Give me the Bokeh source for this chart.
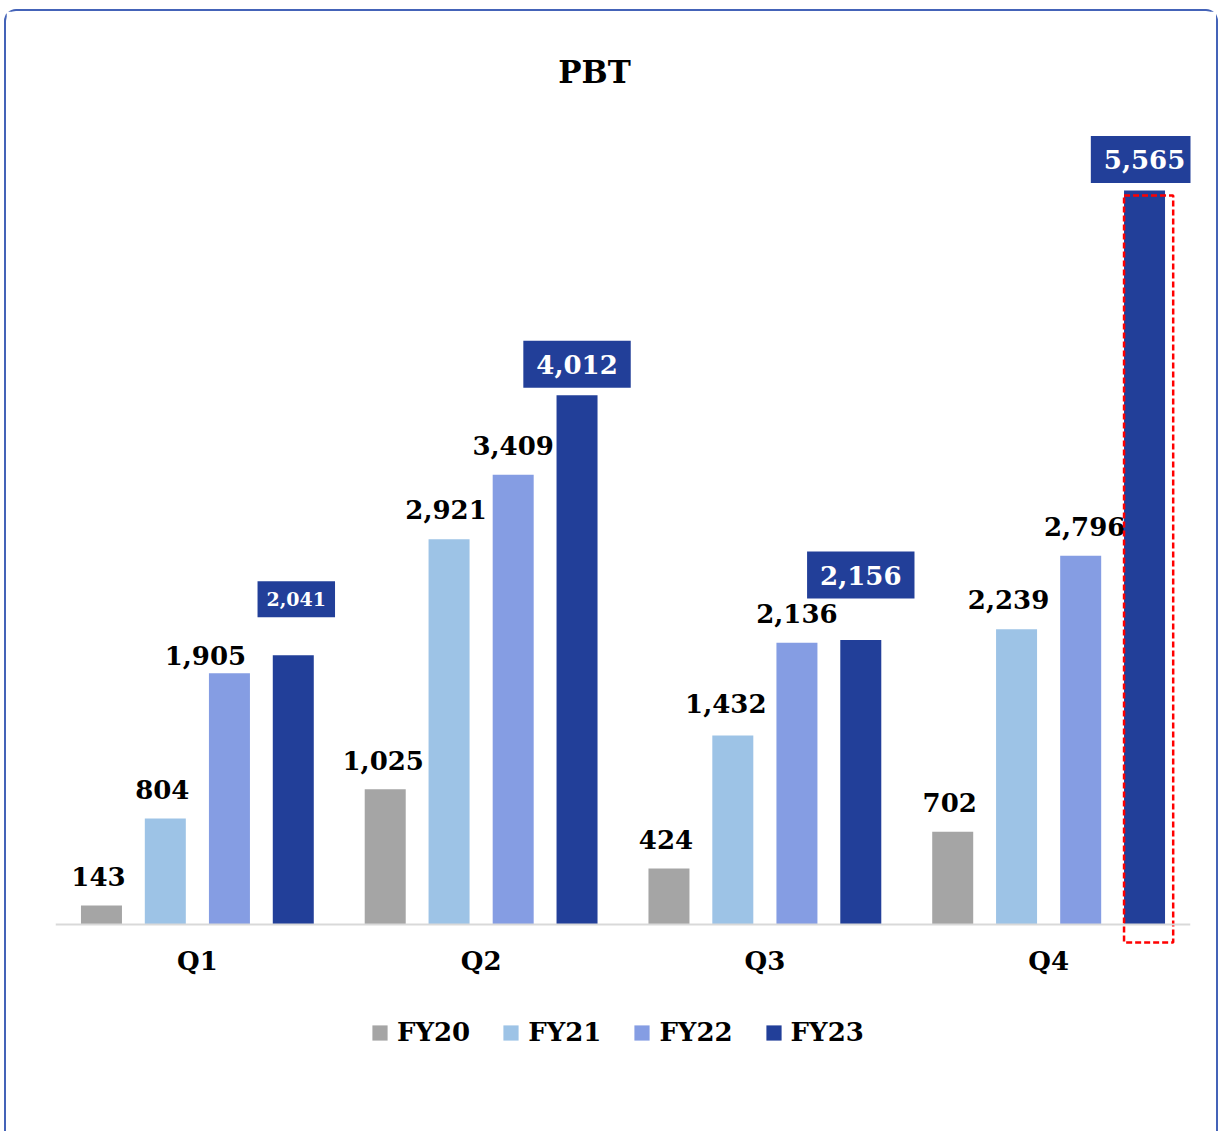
from bokeh.plotting import figure
from bokeh.models import ColumnDataSource, Range1d, Legend, LegendItem, Label, CDSView, IndexFilter
from bokeh.transform import dodge
from bokeh.embed import file_html
from bokeh.resources import INLINE

# ---- data ----
quarters = ["Q1", "Q2", "Q3", "Q4"]
years = ["FY20", "FY21", "FY22", "FY23"]
fy20 = [143, 1025, 424, 702]
fy21 = [804, 2921, 1432, 2239]
fy22 = [1905, 3409, 2136, 2796]
fy23 = [2041, 4012, 2156, 5565]
series = [fy20, fy21, fy22, fy23]

# ---- style ----
colors = ["#A5A5A5", "#9DC3E6", "#859DE3", "#223F99"]
offsets = [-0.338, -0.113, 0.113, 0.338]
bar_w = 0.1445
FONT = "DejaVu Serif"
# label screen offsets (px)
lab_xoff = [[-3, -2, -3, -3], [-3, -3, -7, -8], [-24, 0, 0, 4], [3, 0, 0, 0]]
lab_yoff = [[-29, -29, -29, -29], [-29, -30, -32, -30], [-18, -29, -29, -29], [-56, -31, -65, -31]]

p = figure(width=1214, height=1122, x_range=quarters, y_range=Range1d(-1585, 6922),
           output_backend="svg", toolbar_location=None, title=None,
           min_border_left=49, min_border_right=30, min_border_top=0, min_border_bottom=0)
p.styles = {"margin-left": "4px", "margin-top": "9px",
            "border-top": "2px solid #4463B8", "border-left": "2px solid #4463B8",
            "border-right": "2px solid #4463B8",
            "border-top-left-radius": "12px", "border-top-right-radius": "12px"}
p.outline_line_color = None
p.grid.visible = False
p.yaxis.visible = False
p.background_fill_color = "white"
p.border_fill_color = "white"

ax = p.xaxis[0]
ax.fixed_location = 0
ax.axis_line_color = "#D9D9D9"
ax.axis_line_width = 2
ax.major_tick_line_color = None
ax.minor_tick_line_color = None
ax.major_label_text_font = FONT
ax.major_label_text_font_style = "bold"
ax.major_label_text_font_size = "26px"
ax.major_label_text_color = "black"
ax.major_label_standoff = 16

items = []
for i, (yr, vals) in enumerate(zip(years, series)):
    src = ColumnDataSource(dict(q=quarters, v=vals, label=[f"{v:,}" for v in vals],
                                xo=lab_xoff[i], yo=lab_yoff[i]))
    xs = dodge("q", offsets[i], range=p.x_range)
    r = p.vbar(x=xs, top="v", bottom=0, width=bar_w,
               source=src, fill_color=colors[i], line_color=None)
    items.append(LegendItem(label=yr, renderers=[r]))
    if i < 3:
        p.text(x=xs, y="v", text="label", source=src,
               x_offset="xo", y_offset="yo", text_align="center", text_baseline="middle",
               text_font={"value": FONT}, text_font_style="bold",
               text_font_size="26px", text_color="black")
    else:
        # first quarter's tag is smaller in the original
        p.text(x=xs, y="v", text="label", source=src, view=CDSView(filter=IndexFilter([0])),
               x_offset="xo", y_offset="yo", text_align="center", text_baseline="middle",
               text_font={"value": FONT}, text_font_style="bold",
               text_font_size="19px", text_color="white",
               background_fill_color=colors[3], padding=dict(x=9, y=11))
        p.text(x=xs, y="v", text="label", source=src, view=CDSView(filter=IndexFilter([1, 2, 3])),
               x_offset="xo", y_offset="yo", text_align="center", text_baseline="middle",
               text_font={"value": FONT}, text_font_style="bold",
               text_font_size="26px", text_color="white",
               background_fill_color=colors[3], padding=dict(x=13, y=14))

# highlight box around the largest bar
hi = ColumnDataSource(dict(q=[quarters[3]], top=[fy23[3] * 0.993], bottom=[-fy23[3] * 0.0245]))
p.quad(left=dodge("q", 0.2658, range=p.x_range), right=dodge("q", 0.439, range=p.x_range),
       top="top", bottom="bottom", source=hi, fill_color=None,
       line_color="#FF0000", line_width=2.5, line_dash="6 3")

legend = Legend(items=items, orientation="horizontal", location=(315, 86),
                glyph_width=19, glyph_height=19, label_standoff=8, spacing=31,
                padding=0, margin=0, border_line_color=None, background_fill_alpha=0,
                label_text_font=FONT, label_text_font_style="bold",
                label_text_font_size="26px", label_text_color="black")
p.add_layout(legend)

p.add_layout(Label(x=539, y=1062, x_units="screen", y_units="screen", text="PBT",
                   text_font=FONT, text_font_style="bold", text_font_size="31px",
                   text_align="center", text_baseline="middle", text_color="black"))

open("out.html", "w").write(file_html(p, INLINE))
